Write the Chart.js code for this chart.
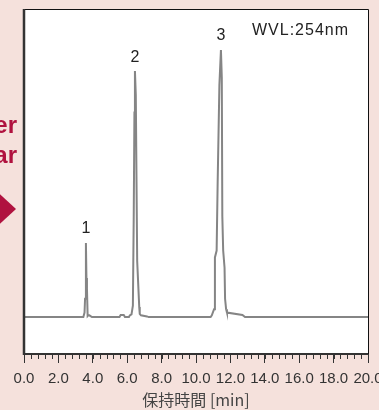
<!DOCTYPE html>
<html>
<head>
<meta charset="utf-8">
<script src="https://cdn.jsdelivr.net/npm/chart.js@4.4.1/dist/chart.umd.min.js"></script>
<style>
  html, body { margin: 0; padding: 0; background: #f5e1dc; }
  #wrap { width: 379px; height: 410px; position: relative; }
</style>
</head>
<body>
<div id="wrap"><canvas id="chrom" width="379" height="410"></canvas></div>
<script>
// Datos del cromatograma (tiempo en min, señal en unidades relativas)
const retentionTimes = [
  0, 3.45, 3.52, 3.55, 3.60, 3.63, 3.66, 3.70, 3.74, 3.80, 3.95,
  5.55, 5.62, 5.80, 5.87, 6.10, 6.15, 6.25, 6.33, 6.38, 6.42, 6.45, 6.50, 6.55, 6.58, 6.70, 6.73, 6.80, 7.15, 7.25,
  10.85, 10.92, 11.05, 11.10, 11.20, 11.26, 11.36, 11.45, 11.50, 11.53, 11.58, 11.66, 11.69, 11.75, 11.80, 12.70, 12.85, 20
];
const signal = [
  10.7, 10.7, 12.0, 16.0, 32.2, 22.0, 19.0, 11.0, 11.2, 11.2, 10.7,
  10.7, 11.3, 11.3, 10.7, 10.7, 11.2, 11.5, 14.0, 40.0, 70.0, 82.0, 75.0, 45.0, 27.0, 13.6, 11.6, 11.2, 10.9, 10.7,
  10.7, 11.2, 13.0, 28.0, 30.0, 50.0, 78.0, 88.1, 80.0, 40.0, 30.0, 25.0, 16.0, 13.0, 12.0, 11.3, 10.7, 10.7
];

// Picos etiquetados
const peakNames = ['1', '2', '3'];
const peakTimes = [3.60, 6.45, 11.45];
const peakHeights = [32.2, 82.0, 88.1];

// Eje X
const xMin = 0;
const xMax = 20;
const majorStep = 2;
const minorStep = 0.4;
const xTitle = '保持時間 [min]';
const wavelengthNote = 'WVL:254nm';

// Texto lateral
const sideLines = ['er', 'ar'];

const points = retentionTimes.map((t, i) => ({ x: t, y: signal[i] }));

const framePlugin = {
  id: 'frame',
  beforeDraw(chart) {
    const { ctx, chartArea: a } = chart;
    ctx.save();
    ctx.fillStyle = '#ffffff';
    ctx.fillRect(a.left, a.top, a.right - a.left, a.bottom - a.top);

    // texto rojo y flecha a la izquierda
    ctx.fillStyle = '#b0123f';
    ctx.font = 'bold 24px "Liberation Sans", Arial, sans-serif';
    ctx.textAlign = 'right';
    ctx.textBaseline = 'alphabetic';
    ctx.fillText(sideLines[0], 17, 133);
    ctx.fillText(sideLines[1], 17, 163);
    ctx.beginPath();
    ctx.moveTo(-12, 183);
    ctx.lineTo(16, 209);
    ctx.lineTo(-12, 235);
    ctx.closePath();
    ctx.fill();
    ctx.restore();
  },
  afterDraw(chart) {
    const { ctx, chartArea: a, scales } = chart;
    ctx.save();
    // marco
    ctx.strokeStyle = '#111';
    ctx.lineWidth = 1;
    ctx.beginPath();
    ctx.moveTo(a.left, a.top + 0.5);
    ctx.lineTo(a.right + 0.5, a.top + 0.5);
    ctx.lineTo(a.right + 0.5, a.bottom);
    ctx.stroke();
    ctx.strokeStyle = '#333';
    ctx.lineWidth = 2.5;
    ctx.beginPath();
    ctx.moveTo(a.left, a.top);
    ctx.lineTo(a.left, a.bottom + 1);
    ctx.stroke();

    // marcas menores
    ctx.lineWidth = 1;
    ctx.strokeStyle = '#333';
    const x = scales.x;
    const nMinor = Math.round((xMax - xMin) / minorStep);
    for (let i = 0; i <= nMinor; i++) {
      const px = Math.round(x.getPixelForValue(xMin + i * minorStep)) + 0.5;
      ctx.beginPath();
      ctx.moveTo(px, a.bottom);
      ctx.lineTo(px, a.bottom + 5);
      ctx.stroke();
    }

    // etiquetas de picos
    const y = scales.y;
    ctx.fillStyle = '#222';
    ctx.font = '16px "Liberation Sans", Arial, sans-serif';
    ctx.textAlign = 'center';
    ctx.textBaseline = 'middle';
    peakNames.forEach((name, i) => {
      ctx.fillText(name, x.getPixelForValue(peakTimes[i]), y.getPixelForValue(peakHeights[i]) - 14);
    });

    ctx.textAlign = 'left';
    ctx.letterSpacing = '1px';
    ctx.fillText(wavelengthNote, 252, 31);
    ctx.restore();
  }
};

const ctx = document.getElementById('chrom').getContext('2d');
const chart = new Chart(ctx, {
  type: 'line',
  data: {
    datasets: [{
      data: points,
      borderColor: '#858585',
      borderWidth: 2,
      pointRadius: 0,
      tension: 0,
      fill: false
    }]
  },
  options: {
    responsive: false,
    animation: false,
    events: [],
    layout: { padding: { left: 24, right: 11, top: 9, bottom: 0 } },
    plugins: {
      legend: { display: false },
      tooltip: { enabled: false }
    },
    scales: {
      x: {
        type: 'linear',
        min: xMin,
        max: xMax,
        afterFit(scale) {
          scale.height = 56;
          scale.paddingLeft = 0;
          scale.paddingRight = 0;
        },
        ticks: {
          stepSize: majorStep,
          autoSkip: false,
          maxRotation: 0,
          padding: 7,
          color: '#333',
          font: { family: '"Liberation Sans", Arial, sans-serif', size: 15 },
          callback: v => v.toFixed(1)
        },
        grid: {
          drawOnChartArea: false,
          drawTicks: true,
          tickLength: 9,
          color: '#333'
        },
        border: { display: true, color: '#333', width: 2 },
        title: {
          display: true,
          text: xTitle,
          color: '#444',
          font: { family: '"Noto Sans CJK JP", sans-serif', size: 16 },
          padding: { top: 0, bottom: 0 }
        }
      },
      y: {
        display: false,
        min: 0,
        max: 100
      }
    }
  },
  plugins: [framePlugin]
});
</script>
</body>
</html>
